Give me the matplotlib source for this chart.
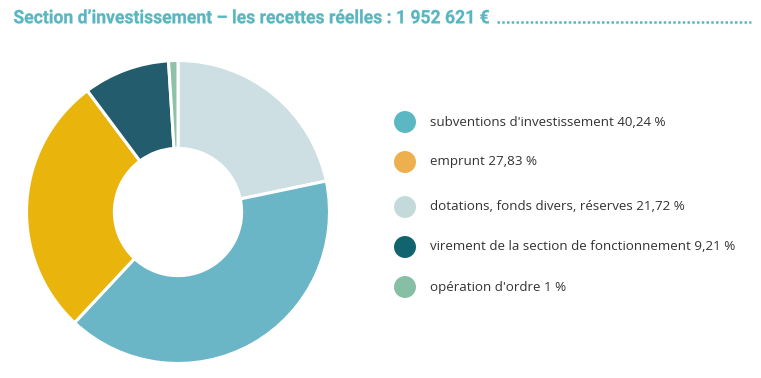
#!/usr/bin/env python3
import matplotlib
matplotlib.use('Agg')
import matplotlib.pyplot as plt
from matplotlib.textpath import TextPath
from matplotlib.patches import PathPatch
from matplotlib.transforms import Affine2D
from matplotlib.font_manager import FontProperties

# data
labels = ["subventions d'investissement", "emprunt", "dotations, fonds divers, réserves",
          "virement de la section de fonctionnement", "opération d'ordre"]
shares = [40.24, 27.83, 21.72, 9.21, 1.0]
share_txt = ["40,24", "27,83", "21,72", "9,21", "1"]
slice_colors = ['#6ab6c7', '#e9b50c', '#cddfe3', '#235d6d', '#8dc2a8']
legend_colors = ['#5bb7c1', '#eeaf4f', '#c4d9d9', '#11646e', '#87bfa5']
title = "Section d\u2019investissement \u2013 les recettes réelles : 1 952 621 €"

# pie order in picture: dotations, subventions, emprunt, virement, ordre (clockwise from top)
order = [2, 0, 1, 3, 4]

fig = plt.figure(figsize=(7.61, 3.78), dpi=100)
ax = fig.add_axes([25/761, 13/378, 306/761, 306/378])
ax.pie([shares[i] for i in order], colors=[slice_colors[i] for i in order],
       startangle=90, counterclock=False,
       wedgeprops=dict(width=0.58, edgecolor='white', linewidth=2.2))
ax.set_xlim(-1.01, 1.01)
ax.set_ylim(-1.01, 1.01)
ax.set_aspect('equal')

# overlay axes in pixel coords (y down)
lax = fig.add_axes([0, 0, 1, 1], facecolor='none')
lax.set_xlim(0, 761)
lax.set_ylim(378, 0)
lax.axis('off')

# title: condensed bold look by squeezing the glyph outlines horizontally
prop = FontProperties(family='Roboto', weight='bold')
tp = TextPath((0, 0), title, size=100, prop=prop)
bb = tp.get_extents()
cap = TextPath((0, 0), 'H', size=100, prop=prop).get_extents().height
sx = (489 - 14) / bb.width
sy = 13.2 / cap
tr = Affine2D().translate(-bb.x0, 0).scale(sx, -sy).translate(14, 23.3)
lax.add_patch(PathPatch(tr.transform_path(tp), facecolor='#58b6c0', edgecolor='#58b6c0',
                        linewidth=0.2))
lax.plot([497, 751], [21.5, 21.5], color='#58b6c0', linestyle=(0, (1, 0.9)), linewidth=1.8)

# legend
ys = [122, 162, 207, 247, 287]
for i, y in enumerate(ys):
    lax.scatter([405], [y], s=250, color=legend_colors[i], edgecolors='none')
    lax.text(430, y, f"{labels[i]} {share_txt[i]} %", fontsize=9.6, color='#333333',
             va='center', ha='left', family='Open Sans')

fig.savefig('out.png', dpi=100)
